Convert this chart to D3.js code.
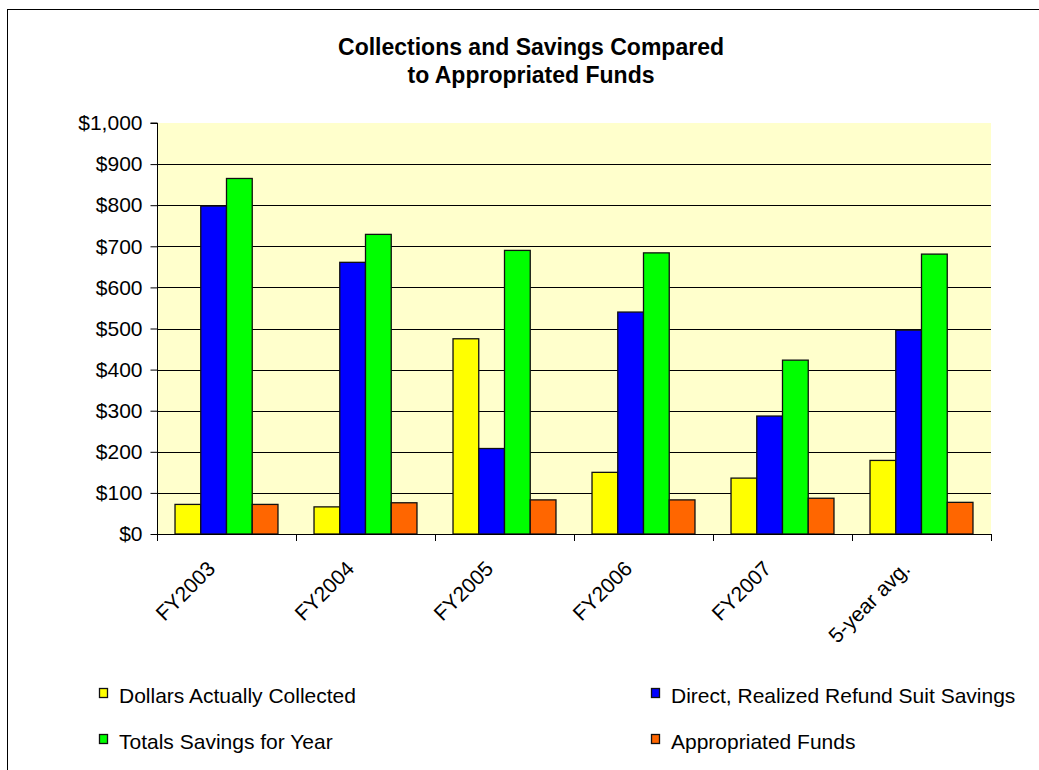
<!DOCTYPE html>
<html>
<head>
<meta charset="utf-8">
<script src="https://cdn.jsdelivr.net/npm/d3@7"></script>
<style>
  html, body { margin: 0; padding: 0; background: #fff; }
  svg { display: block; font-family: "Liberation Sans", Arial, sans-serif; }
</style>
</head>
<body>
<svg id="chart" width="1039" height="770"></svg>
<script>
// Category labels along the x axis
const categories = ["FY2003", "FY2004", "FY2005", "FY2006", "FY2007", "5-year avg."];

// Series names (legend order) and their values in dollars
const seriesNames = [
  "Dollars Actually Collected",
  "Direct, Realized Refund Suit Savings",
  "Totals Savings for Year",
  "Appropriated Funds"
];
const collected   = [72, 66, 475, 150, 136, 179];
const direct      = [798, 661, 208, 540, 287, 496];
const totals      = [865, 729, 690, 684, 423, 681];
const appropriated = [72, 76, 83, 83, 87, 77];

const seriesColors = ["#FFFF00", "#0000FF", "#00FF00", "#FF6600"];

// Y-axis ticks
const yTicks = [0, 100, 200, 300, 400, 500, 600, 700, 800, 900, 1000];

const seriesValues = [collected, direct, totals, appropriated];

const svg = d3.select("#chart");

// Outer chart frame
svg.append("rect")
  .attr("x", 7.5).attr("y", 9.5)
  .attr("width", 1100).attr("height", 900)
  .attr("fill", "none").attr("stroke", "#000").attr("stroke-width", 1);

// Title
const title = svg.append("text")
  .attr("text-anchor", "middle")
  .attr("font-weight", "bold")
  .attr("font-size", 23)
  .attr("fill", "#000");
title.append("tspan").attr("x", 531).attr("y", 55).text("Collections and Savings Compared");
title.append("tspan").attr("x", 531).attr("y", 83).text("to Appropriated Funds");

// Plot area
const plot = { left: 157, right: 991, top: 123, bottom: 534 };

const x0 = d3.scaleBand().domain(categories).range([plot.left, plot.right]).padding(0);
const x1 = d3.scaleBand().domain(d3.range(seriesNames.length))
  .range([0, x0.bandwidth()]).paddingInner(0).paddingOuter(0.7);
const y = d3.scaleLinear().domain([0, 1000]).range([plot.bottom, plot.top]);

svg.append("rect")
  .attr("x", plot.left).attr("y", plot.top)
  .attr("width", plot.right - plot.left).attr("height", plot.bottom - plot.top)
  .attr("fill", "#FFFFCC");

// Horizontal gridlines
svg.append("g")
  .selectAll("line")
  .data(yTicks.filter(t => t > 0 && t < 1000))
  .join("line")
  .attr("x1", plot.left).attr("x2", plot.right)
  .attr("y1", d => Math.round(y(d)) + 0.5).attr("y2", d => Math.round(y(d)) + 0.5)
  .attr("stroke", "#000").attr("stroke-width", 1);

// Bars
const groups = svg.append("g")
  .selectAll("g")
  .data(categories)
  .join("g")
  .attr("transform", d => `translate(${x0(d)},0)`);

groups.selectAll("rect")
  .data((d, i) => seriesValues.map((vals, s) => ({ s, v: vals[i] })))
  .join("rect")
  .attr("x", d => x1(d.s))
  .attr("y", d => y(d.v))
  .attr("width", x1.bandwidth())
  .attr("height", d => y(0) - y(d.v))
  .attr("fill", d => seriesColors[d.s])
  .attr("stroke", "#111")
  .attr("stroke-width", 1.3);

// Y axis
const yAxis = d3.axisLeft(y)
  .tickValues(yTicks)
  .tickSize(7)
  .tickPadding(8)
  .tickFormat(d => "$" + d3.format(",")(d));
const yg = svg.append("g")
  .attr("transform", `translate(${plot.left + 0.5},0)`)
  .call(yAxis);
yg.select(".domain").attr("d", `M-7,${plot.top}H0V${plot.bottom}`).attr("stroke", "#000");
yg.selectAll(".tick line").attr("stroke", "#000");
yg.selectAll(".tick text")
  .attr("font-size", 21)
  .attr("font-family", "Liberation Sans, Arial, sans-serif")
  .attr("fill", "#000");

// X axis with ticks at category boundaries
const xg = svg.append("g");
xg.append("line")
  .attr("x1", plot.left).attr("x2", plot.right)
  .attr("y1", plot.bottom + 0.5).attr("y2", plot.bottom + 0.5)
  .attr("stroke", "#000");
const boundaries = categories.map(c => x0(c)).concat([x0(categories[categories.length - 1]) + x0.bandwidth()]);
xg.selectAll("line.tick")
  .data(boundaries)
  .join("line")
  .attr("class", "tick")
  .attr("x1", d => Math.round(d) + 0.5).attr("x2", d => Math.round(d) + 0.5)
  .attr("y1", plot.bottom).attr("y2", plot.bottom + 7)
  .attr("stroke", "#000");

xg.selectAll("text")
  .data(categories)
  .join("text")
  .attr("transform", d => `translate(${x0(d) + x0.bandwidth() / 2 - 10},${plot.bottom + 36}) rotate(-45)`)
  .attr("text-anchor", "end")
  .attr("font-size", 21)
  .attr("fill", "#000")
  .text(d => d);

// Legend
const legendPos = [
  { x: 99, y: 703 },
  { x: 651, y: 703 },
  { x: 99, y: 749 },
  { x: 651, y: 749 }
];
const legend = svg.append("g")
  .selectAll("g")
  .data(seriesNames)
  .join("g")
  .attr("transform", (d, i) => `translate(${legendPos[i].x},${legendPos[i].y})`);
legend.append("rect")
  .attr("x", 0.5).attr("y", -14.5)
  .attr("width", 8).attr("height", 9)
  .attr("fill", (d, i) => seriesColors[i])
  .attr("stroke", "#111").attr("stroke-width", 1.3);
legend.append("text")
  .attr("x", 20).attr("y", 0)
  .attr("font-size", 21)
  .attr("fill", "#000")
  .text(d => d);
</script>
</body>
</html>
